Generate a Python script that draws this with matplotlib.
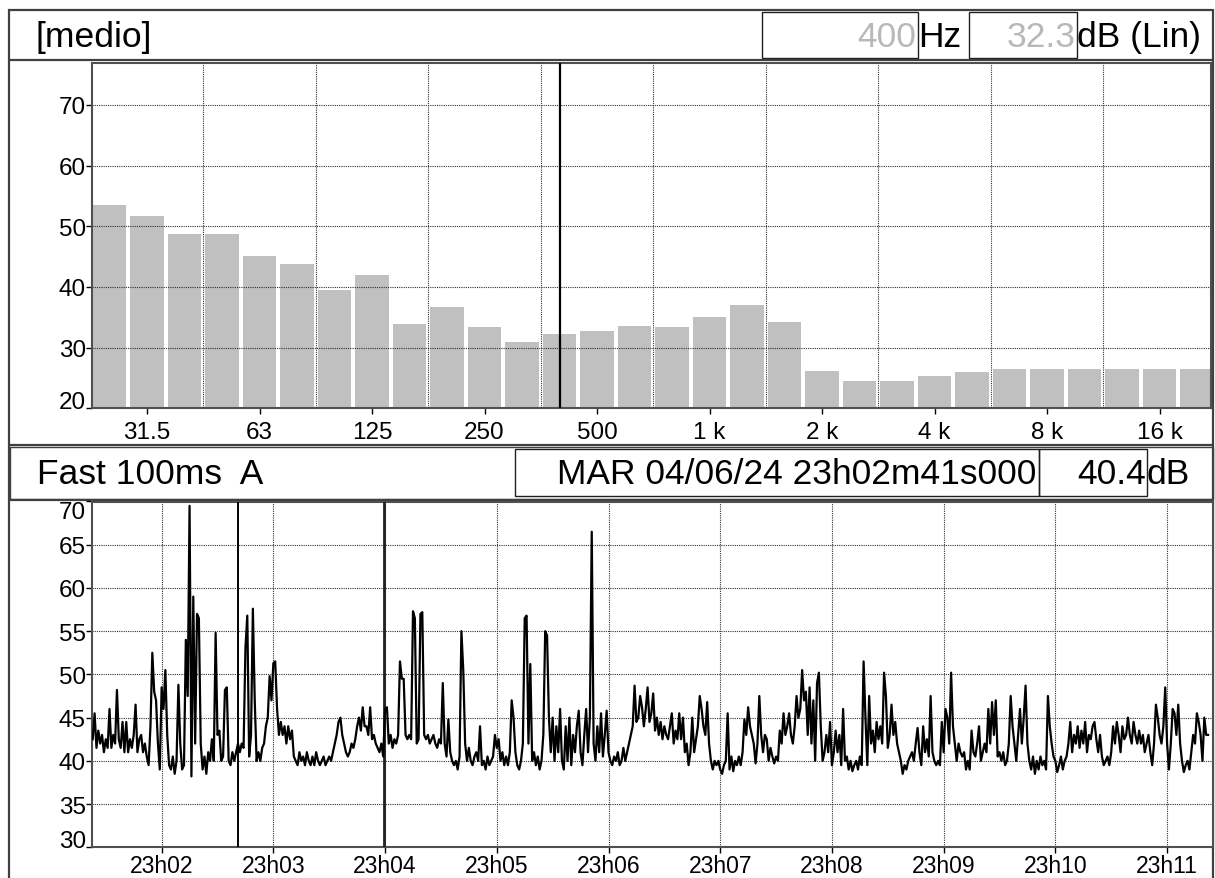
import matplotlib
matplotlib.use('Agg')
import matplotlib.pyplot as plt
from matplotlib.patches import Rectangle
import numpy as np

plt.rcParams['font.family'] = ['Liberation Sans', 'DejaVu Sans']

# ---------------- data ----------------
bands = ['25', '31.5', '40', '50', '63', '80', '100', '125', '160', '200',
         '250', '315', '400', '500', '630', '800', '1k', '1.25k', '1.6k', '2k',
         '2.5k', '3.15k', '4k', '5k', '6.3k', '8k', '10k', '12.5k', '16k', '20k']
band_levels = [53.5, 51.7, 48.7, 48.7, 45.1, 43.7, 39.5, 42.0, 33.9, 36.7,
               33.4, 30.9, 32.3, 32.8, 33.6, 33.4, 35.0, 37.0, 34.2, 26.1,
               24.5, 24.5, 25.3, 25.9, 26.4, 26.4, 26.4, 26.4, 26.4, 26.4]
tick_bands = ['31.5', '63', '125', '250', '500', '1k', '2k', '4k', '8k', '16k']
tick_band_labels = ['31.5', '63', '125', '250', '500', '1 k', '2 k', '4 k', '8 k', '16 k']
cursor_band = '400'
cursor_band_value = '32.3'

spec_yticks = [20, 30, 40, 50, 60, 70]
time_yticks = [30, 35, 40, 45, 50, 55, 60, 65, 70]

# time series: one value per second, starting 23:01:23
series_start_s = 83          # seconds after 23h00
level_db = [
    42.5, 45.5, 41.5, 43.5, 42, 43, 41, 42.5, 41.5, 46,
    41.5, 43, 42, 48.2, 42.5, 41.5, 44.5, 41, 44.5, 41,
    42.5, 41.5, 43, 46.5, 41, 42.5, 43, 41, 42, 40.5,
    39.5, 44, 52.5, 48, 47, 42, 39,
    # 23h02m00
    48.5, 46, 50.5, 43, 39.5, 39, 40.5, 38.5, 40, 48.8,
    42, 39, 39.5, 54, 47.5, 69.5, 38.2, 59, 42, 57,
    56.5, 42, 39, 40.5, 38.5, 41, 40, 42.5, 40, 54.8,
    43, 43.5, 40, 40.5, 48.2, 48.5, 40, 39.5, 41, 40,
    41, 42, 41, 42, 41.5, 53, 56.8, 40.5, 43, 57.6,
    47, 40, 41, 40, 41.5, 42, 44, 45, 49.8, 47,
    # 23h03m00
    51.3, 51.5, 46, 43, 44.5, 43, 44, 42, 44, 42.5,
    43.5, 40.5, 40, 39.5, 41, 40, 40.5, 39.5, 41, 40,
    39.5, 40.5, 39.5, 41, 40, 39.5, 40, 40.5, 39.5, 40,
    40.5, 40, 41, 42, 43, 44.5, 45, 43, 42, 41,
    40.5, 41, 42, 41.5, 42.5, 44, 45, 43.5, 46.2, 44,
    44, 43, 46.2, 42.5, 43, 42, 41.5, 41, 42, 40.5,
    # 23h04m00
    46, 46.2, 42, 43, 41.5, 42.5, 42, 43, 51.5, 49.5,
    49.5, 43, 42.5, 43, 42.5, 57.3, 56.5, 42, 42.5, 57,
    57.2, 43, 42.5, 43, 42, 42.5, 43, 42, 41.5, 42.5,
    42, 49, 42, 40.5, 44.8, 41, 40, 39.5, 40, 39,
    40.5, 55, 50.5, 42, 40, 41.5, 40, 39.5, 40.5, 41,
    40, 44, 39.5, 40, 39, 40.5, 39.5, 40, 40.5, 43,
    # 23h05m00
    41.5, 42.5, 40, 41, 39.5, 40.5, 39.5, 41, 47, 45,
    41, 39.5, 39, 40, 42, 56.5, 56.8, 42, 51.2, 40,
    41, 39.5, 40.5, 39, 40, 43, 55, 54.5, 45, 41,
    45, 40, 44, 41, 46, 40, 39, 44, 40, 45,
    39.5, 43, 41, 44, 45.8, 41, 39.5, 43, 46, 41,
    45, 66.5, 42, 40, 44, 41, 45.5, 40.5, 43, 45.8,
    # 23h06m00
    41, 40, 39.5, 40.5, 40, 41, 39.5, 40, 41.5, 40,
    41, 42, 43, 44, 48.7, 44.5, 45, 47.5, 46.2, 44,
    46, 48.5, 44.5, 45.5, 47.8, 43.5, 45, 43, 44.5, 42.5,
    44, 43, 42.5, 44, 45.5, 42, 43.5, 42.5, 45.5, 42.5,
    45, 41, 42, 39.5, 41, 45, 41, 42.5, 44, 47.5,
    46, 44, 43, 46.8, 42, 40, 39, 40, 39.5, 40,
    # 23h07m00
    39, 38.5, 39.5, 40, 45.5, 39, 40.5, 38.8, 40, 39.5,
    40.5, 39.5, 41, 44.8, 43, 46.2, 44, 43, 42, 39.7,
    42, 47.5, 43, 41, 43, 42.5, 40, 41.5, 40.5, 39.7,
    40.5, 40, 43.5, 42, 45.5, 43, 44, 45.5, 43, 42,
    44, 47.5, 45, 46, 50.5, 47, 48, 43, 48.5, 42,
    47, 40, 49, 50.2, 44, 40, 41, 43, 41, 44.5,
    # 23h08m00
    39.5, 41, 43.5, 41, 43, 39.5, 46, 40, 40.5, 39,
    40, 38.8, 39.5, 40, 39, 40.5, 39.5, 51.5, 45, 39.5,
    47.5, 42, 43.5, 41, 44.5, 42.5, 44, 42, 50.2, 47.5,
    41.5, 43, 46.5, 43, 44.5, 42, 41, 40, 38.5, 39.5,
    39, 40, 40.5, 41, 40, 42, 43.8, 41, 39.5, 44,
    41, 42.5, 40.5, 47.5, 41, 40, 39.5, 40, 39.5, 44.5,
    # 23h09m00
    41, 46, 45, 42, 50.2, 44, 42, 40, 42, 41,
    40.5, 41, 39, 40, 39, 43.5, 41, 40.5, 42, 44,
    40, 41, 42, 41, 46, 42, 46.8, 43, 47, 40.5,
    41, 40, 41, 39.5, 40, 42, 47.5, 44, 42, 40,
    43, 46, 42, 45, 48.7, 42, 40, 39, 40.5, 38.5,
    40, 39, 40.5, 39.5, 40, 39, 47.5, 44, 42, 40.5,
    # 23h10m00
    40, 38.7, 39.5, 40.5, 39, 40, 40.5, 42, 44.5, 41,
    43, 42, 44, 41.5, 43.5, 42, 44.5, 41, 43, 42.5,
    44, 44.5, 42.5, 41, 43, 40.5, 39.5, 40, 40.5, 39.5,
    41, 44, 42, 44.5, 43, 41, 44, 42.5, 43, 45,
    43, 42, 44.5, 43, 42, 43.5, 42, 43, 41, 42,
    43, 41, 39.5, 42, 46.5, 45, 43, 42, 44, 48.5,
    # 23h11m00
    42, 39, 42, 46, 45.5, 43, 46.5, 42, 40, 38.7,
    39.5, 40, 39, 41, 43, 42, 45.5, 44.5, 43, 40,
    45, 43, 43,
]
minute_ticks_s = [120, 180, 240, 300, 360, 420, 480, 540, 600, 660]
minute_labels = ['23h02', '23h03', '23h04', '23h05', '23h06',
                 '23h07', '23h08', '23h09', '23h10', '23h11']
cursor_time_s = 161          # 23h02m41s
marker_time_s = 239.2
time_xlim = (82.6, 684.5)

header_title = '[medio]'
header_freq = '400'
header_bottom_left = 'Fast 100ms  A'
header_datetime = 'MAR 04/06/24 23h02m41s000'
header_level = '40.4'

# ---------------- figure ----------------
W, H = 1215, 879
fig = plt.figure(figsize=(W / 100, H / 100), dpi=100)
fig.patch.set_facecolor('white')

bg = fig.add_axes([0, 0, 1, 1], zorder=0)
bg.set_xlim(0, W)
bg.set_ylim(H, 0)
bg.axis('off')

frame_c = '#404040'


def hline(y, x0, x1, lw=1.6, c=frame_c):
    bg.plot([x0, x1], [y, y], color=c, lw=lw, solid_capstyle='butt')


def vline(x, y0, y1, lw=1.6, c=frame_c):
    bg.plot([x, x], [y0, y1], color=c, lw=lw, solid_capstyle='butt')


def box(x0, y0, x1, y1, lw=1.0, c='#202020'):
    bg.add_patch(Rectangle((x0, y0), x1 - x0, y1 - y0, fill=False,
                           edgecolor=c, lw=lw))


# outer frame and separators
vline(8.5, 10, H)
vline(1213, 10, H)
hline(10.5, 8, 1213)
hline(61, 8, 1213)
hline(446, 8, 1213)
hline(500.5, 8, 1213)
box(10, 447.5, 1213, 499.5, lw=1.0, c='#404040')

# top header boxes and texts
hdr_fs = 25.5
grey_txt = '#b8b8b8'
box(762, 13, 918, 59)
box(969, 13, 1077, 59)
bg.text(35, 47, header_title, fontsize=hdr_fs, va='baseline', ha='left')
bg.text(916, 47, header_freq, fontsize=hdr_fs, va='baseline', ha='right', color=grey_txt)
bg.text(918, 47, 'Hz', fontsize=hdr_fs, va='baseline', ha='left')
bg.text(1076, 47, cursor_band_value, fontsize=hdr_fs, va='baseline', ha='right', color=grey_txt)
bg.text(1077, 47, 'dB (Lin)', fontsize=hdr_fs, va='baseline', ha='left')

# bottom header boxes and texts
box(515, 450, 1039, 497)
box(1039, 450, 1147, 497)
bg.text(37, 484, header_bottom_left, fontsize=hdr_fs, va='baseline', ha='left')
bg.text(1036, 484, header_datetime, fontsize=hdr_fs, va='baseline', ha='right')
bg.text(1146, 484, header_level, fontsize=hdr_fs, va='baseline', ha='right')
bg.text(1147, 484, 'dB', fontsize=hdr_fs, va='baseline', ha='left')

grid_kw = dict(color='#303030', lw=0.8, linestyle=(0, (1, 1)))
tick_fs = 17.5

# ---------------- spectrum ----------------
ax1 = fig.add_axes([92 / W, 1 - 409.3 / H, (1211 - 92) / W, (409.3 - 64) / H], zorder=1)
xpos = np.arange(len(bands))
ax1.bar(xpos, band_levels, width=0.9, bottom=0, color='#c0c0c0', edgecolor='none', zorder=2)
ax1.set_xlim(-0.467, 29.37)
ax1.set_ylim(20, 76.9)
for y in spec_yticks[1:]:
    ax1.axhline(y, zorder=3, **grid_kw)
for i in range(2, len(bands) - 1, 3):
    ax1.axvline(i + 0.5, zorder=3, **grid_kw)
ax1.axvline(bands.index(cursor_band), color='black', lw=1.6, zorder=4)
ax1.set_xticks([bands.index(b) for b in tick_bands])
ax1.set_xticklabels(tick_band_labels)
ax1.set_yticks(spec_yticks)
ax1.set_yticklabels([str(v) for v in spec_yticks])
ax1.tick_params(axis='x', direction='out', length=4, width=1, pad=5.5, labelsize=tick_fs)
ax1.tick_params(axis='y', direction='out', length=4, width=1, pad=0.5, labelsize=tick_fs)
ax1.get_yticklabels()[0].set_verticalalignment('baseline')

# ---------------- time history ----------------
ax2 = fig.add_axes([92 / W, 1 - 848.3 / H, (1212.7 - 92) / W, (848.3 - 502.5) / H], zorder=1)
t = series_start_s + np.arange(len(level_db))
ax2.set_xlim(*time_xlim)
ax2.set_ylim(30, 70)
for y in time_yticks[1:-1]:
    ax2.axhline(y, zorder=1, **grid_kw)
for x in minute_ticks_s:
    ax2.axvline(x, zorder=1, **grid_kw)
ax2.axvline(cursor_time_s, color='black', lw=1.4, zorder=3)
ax2.axvline(marker_time_s, color='#202020', lw=2.0, zorder=3)
ax2.plot(t, level_db, color='black', lw=1.6, zorder=4)
ax2.set_xticks(minute_ticks_s)
ax2.set_xticklabels(minute_labels)
ax2.set_yticks(time_yticks)
ax2.set_yticklabels([str(v) for v in time_yticks])
ax2.tick_params(axis='x', direction='out', length=4, width=1, pad=0.5, labelsize=16.5)
ax2.tick_params(axis='y', direction='out', length=4, width=1, pad=0.5, labelsize=tick_fs)
ylabs = ax2.get_yticklabels()
ylabs[0].set_verticalalignment('baseline')
ylabs[-1].set_verticalalignment('top')

for ax in (ax1, ax2):
    for s in ax.spines.values():
        s.set_color('#505050')
        s.set_linewidth(1.5)
    ax.set_facecolor('white')

fig.savefig('out.png', dpi=100)
